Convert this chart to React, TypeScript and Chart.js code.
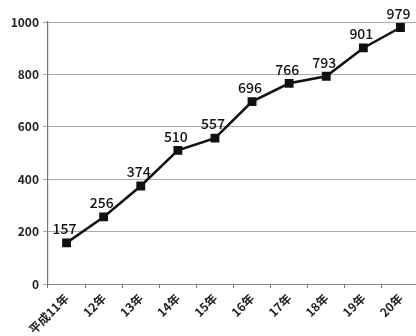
import React, { useEffect, useRef } from "react";
import { Chart, registerables } from "chart.js";

Chart.register(...registerables);

const categories = ["平成11年", "12年", "13年", "14年", "15年", "16年", "17年", "18年", "19年", "20年"];
const values = [157, 256, 374, 510, 557, 696, 766, 793, 901, 979];
const yTicks = [0, 200, 400, 600, 800, 1000];

const FONT = "'Noto Sans CJK JP', 'Noto Sans', sans-serif";

const labelPlugin = {
  id: "pointLabels",
  afterDatasetsDraw(chart: any) {
    const ctx = chart.ctx;
    const meta = chart.getDatasetMeta(0);
    ctx.save();
    ctx.fillStyle = "#111";
    ctx.font = `500 14px ${FONT}`;
    ctx.textAlign = "center";
    ctx.textBaseline = "bottom";
    meta.data.forEach((pt: any, i: number) => {
      ctx.fillText(String(values[i]), pt.x - 2, pt.y - 7);
    });
    ctx.restore();
  },
};

export default function App() {
  const ref = useRef<HTMLCanvasElement>(null);
  useEffect(() => {
    document.body.style.margin = "0";
    const chart = new Chart(ref.current!, {
      type: "line",
      data: {
        labels: categories,
        datasets: [
          {
            data: values,
            borderColor: "#111",
            borderWidth: 2.5,
            backgroundColor: "#111",
            pointStyle: "rect",
            pointRadius: 4.5,
            pointBackgroundColor: "#111",
            pointBorderColor: "#111",
            tension: 0,
          },
        ],
      },
      options: {
        animation: false,
        responsive: false,
        layout: { padding: { top: 22, right: 0, left: 0, bottom: 0 } },
        plugins: { legend: { display: false }, tooltip: { enabled: false } },
        scales: {
          x: {
            offset: true,
            grid: { offset: true, drawOnChartArea: false, color: "#777", tickLength: 4 },
            border: { color: "#888", width: 1 },
            ticks: {
              color: "#222",
              font: { family: FONT, size: 12, weight: "bold" as any },
              maxRotation: 45,
              minRotation: 45,
              padding: 3,
            },
            afterFit(scale: any) {
              scale.height = 52;
            },
          },
          y: {
            min: 0,
            max: 1000,
            afterBuildTicks(scale: any) {
              scale.ticks = yTicks.map((v) => ({ value: v }));
            },
            grid: { color: "#aaa", tickLength: 5, lineWidth: 1 },
            border: { color: "#777", width: 1.2 },
            ticks: {
              color: "#222",
              font: { family: FONT, size: 12, weight: "bold" as any },
              padding: 4,
              callback: (v: any) => String(v),
            },
            afterFit(scale: any) {
              scale.width = 48;
            },
          },
        },
      },
      plugins: [labelPlugin],
    });
    return () => chart.destroy();
  }, []);
  return (
    <div style={{ position: "fixed", left: 0, top: 0, width: 416, height: 336, overflow: "hidden", background: "#fff" }}>
      <canvas ref={ref} width={426} height={336} style={{ display: "block" }} />
    </div>
  );
}
